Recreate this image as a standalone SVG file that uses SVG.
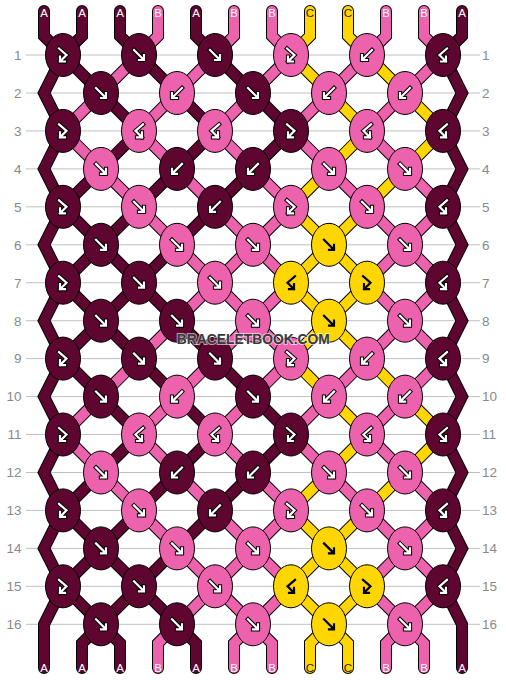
<svg xmlns="http://www.w3.org/2000/svg" xmlns:xlink="http://www.w3.org/1999/xlink" width="506" height="680" viewBox="0 0 506 680">
<style>
.rl{stroke:#c0c0c0;stroke-width:1}
.lbl{font-family:"Liberation Sans",Arial,sans-serif;font-size:13.5px;fill:#8a8a8a}
.le{text-anchor:end}
.sl{font-family:"Liberation Sans",Arial,sans-serif;font-size:11.5px;text-anchor:middle;fill:#fff}
.sl.c{fill:#222}
.ol{fill:none;stroke:#000;stroke-width:12;stroke-linecap:round;stroke-linejoin:miter}
.s{fill:none;stroke-width:10;stroke-linecap:round;stroke-linejoin:miter}
.s.a{stroke:#5e0630}.s.b{stroke:#ec62ac}.s.c{stroke:#ffd600}
.ka{fill:#5e0630}.kb{fill:#ec62ac}.kc{fill:#ffd600}
.ao{fill:none;stroke:#000;stroke-width:4.2;stroke-linecap:square;stroke-linejoin:miter}
.ai{fill:none;stroke:#fff;stroke-width:2.2;stroke-linecap:square;stroke-linejoin:miter}
.ak{fill:none;stroke:#000;stroke-width:2.2;stroke-linecap:square;stroke-linejoin:miter}
.wm{font-family:"Liberation Sans",Arial,sans-serif;font-weight:bold;font-size:15px;text-anchor:middle;fill:#3a3a3a;stroke:#fff;stroke-opacity:.6;stroke-width:2;paint-order:stroke}
</style>
<defs>
<ellipse id="kn" rx="17.5" ry="21.5" stroke="#000" stroke-width="1"/>
<path id="pF" d="M-5,-5L4.5,4.5M5,0V5H0"/>
<path id="pB" d="M5,-5L-4.5,4.5M-5,0V5H0"/>
<path id="pFB" d="M-4,-6.5L3.5,0L-3,6.5M-3,1.5V6.5H2"/>
<path id="pBF" d="M4,-6.5L-3.5,0L3,6.5M3,1.5V6.5H-2"/>
<g id="F"><use href="#pF" class="ao"/><use href="#pF" class="ai"/></g>
<g id="B"><use href="#pB" class="ao"/><use href="#pB" class="ai"/></g>
<g id="FB"><use href="#pFB" class="ao"/><use href="#pFB" class="ai"/></g>
<g id="BF"><use href="#pBF" class="ao"/><use href="#pBF" class="ai"/></g>
<g id="Fk"><use href="#pF" class="ak"/></g>
<g id="FBk"><use href="#pFB" class="ak"/></g>
<g id="BFk"><use href="#pBF" class="ak"/></g>
</defs>
<rect width="506" height="680" fill="#fff"/>
<g id="rowlines">
<path class="rl" d="M26,55H480M26,93H480M26,130.9H480M26,168.9H480M26,206.8H480M26,244.8H480M26,282.7H480M26,320.7H480M26,358.6H480M26,396.6H480M26,434.5H480M26,472.5H480M26,510.4H480M26,548.4H480M26,586.3H480M26,624.3H480"/>
</g>
<g id="rowlabels">
<text class="lbl le" x="21.5" y="59.8">1</text><text class="lbl" x="482" y="59.8">1</text>
<text class="lbl le" x="21.5" y="97.8">2</text><text class="lbl" x="482" y="97.8">2</text>
<text class="lbl le" x="21.5" y="135.7">3</text><text class="lbl" x="482" y="135.7">3</text>
<text class="lbl le" x="21.5" y="173.7">4</text><text class="lbl" x="482" y="173.7">4</text>
<text class="lbl le" x="21.5" y="211.6">5</text><text class="lbl" x="482" y="211.6">5</text>
<text class="lbl le" x="21.5" y="249.6">6</text><text class="lbl" x="482" y="249.6">6</text>
<text class="lbl le" x="21.5" y="287.5">7</text><text class="lbl" x="482" y="287.5">7</text>
<text class="lbl le" x="21.5" y="325.5">8</text><text class="lbl" x="482" y="325.5">8</text>
<text class="lbl le" x="21.5" y="363.4">9</text><text class="lbl" x="482" y="363.4">9</text>
<text class="lbl le" x="21.5" y="401.4">10</text><text class="lbl" x="482" y="401.4">10</text>
<text class="lbl le" x="21.5" y="439.3">11</text><text class="lbl" x="482" y="439.3">11</text>
<text class="lbl le" x="21.5" y="477.3">12</text><text class="lbl" x="482" y="477.3">12</text>
<text class="lbl le" x="21.5" y="515.2">13</text><text class="lbl" x="482" y="515.2">13</text>
<text class="lbl le" x="21.5" y="553.2">14</text><text class="lbl" x="482" y="553.2">14</text>
<text class="lbl le" x="21.5" y="591.1">15</text><text class="lbl" x="482" y="591.1">15</text>
<text class="lbl le" x="21.5" y="629.1">16</text><text class="lbl" x="482" y="629.1">16</text>
</g>
<g id="connectors">
<path class="ol" d="M44,11V36L63,55M82,11V36L63,55M120,11V36L139,55M158,11V36L139,55M196,11V36L215,55M234,11V36L215,55M272,11V36L291,55M310,11V36L291,55M348,11V36L367,55M386,11V36L367,55M424,11V36L443,55M462,11V36L443,55
M63,55L44,93L63,130.9M63,130.9L44,168.9L63,206.8M63,206.8L44,244.8L63,282.7M63,282.7L44,320.7L63,358.6M63,358.6L44,396.6L63,434.5M63,434.5L44,472.5L63,510.4M63,510.4L44,548.4L63,586.3M63,586.3L44,624.3V668
M443,55L462,93L443,130.9M443,130.9L462,168.9L443,206.8M443,206.8L462,244.8L443,282.7M443,282.7L462,320.7L443,358.6M443,358.6L462,396.6L443,434.5M443,434.5L462,472.5L443,510.4M443,510.4L462,548.4L443,586.3M443,586.3L462,624.3V668
M63,55L101,93M139,55L101,93M139,55L177,93M215,55L177,93M215,55L253,93M291,55L253,93M291,55L329,93M367,55L329,93M367,55L405,93M443,55L405,93
M101,93L63,130.9M101,93L139,130.9M177,93L139,130.9M177,93L215,130.9M253,93L215,130.9M253,93L291,130.9M329,93L291,130.9M329,93L367,130.9M405,93L367,130.9M405,93L443,130.9
M63,130.9L101,168.9M139,130.9L101,168.9M139,130.9L177,168.9M215,130.9L177,168.9M215,130.9L253,168.9M291,130.9L253,168.9M291,130.9L329,168.9M367,130.9L329,168.9M367,130.9L405,168.9M443,130.9L405,168.9
M101,168.9L63,206.8M101,168.9L139,206.8M177,168.9L139,206.8M177,168.9L215,206.8M253,168.9L215,206.8M253,168.9L291,206.8M329,168.9L291,206.8M329,168.9L367,206.8M405,168.9L367,206.8M405,168.9L443,206.8
M63,206.8L101,244.8M139,206.8L101,244.8M139,206.8L177,244.8M215,206.8L177,244.8M215,206.8L253,244.8M291,206.8L253,244.8M291,206.8L329,244.8M367,206.8L329,244.8M367,206.8L405,244.8M443,206.8L405,244.8
M101,244.8L63,282.7M101,244.8L139,282.7M177,244.8L139,282.7M177,244.8L215,282.7M253,244.8L215,282.7M253,244.8L291,282.7M329,244.8L291,282.7M329,244.8L367,282.7M405,244.8L367,282.7M405,244.8L443,282.7
M63,282.7L101,320.7M139,282.7L101,320.7M139,282.7L177,320.7M215,282.7L177,320.7M215,282.7L253,320.7M291,282.7L253,320.7M291,282.7L329,320.7M367,282.7L329,320.7M367,282.7L405,320.7M443,282.7L405,320.7
M101,320.7L63,358.6M101,320.7L139,358.6M177,320.7L139,358.6M177,320.7L215,358.6M253,320.7L215,358.6M253,320.7L291,358.6M329,320.7L291,358.6M329,320.7L367,358.6M405,320.7L367,358.6M405,320.7L443,358.6
M63,358.6L101,396.6M139,358.6L101,396.6M139,358.6L177,396.6M215,358.6L177,396.6M215,358.6L253,396.6M291,358.6L253,396.6M291,358.6L329,396.6M367,358.6L329,396.6M367,358.6L405,396.6M443,358.6L405,396.6
M101,396.6L63,434.5M101,396.6L139,434.5M177,396.6L139,434.5M177,396.6L215,434.5M253,396.6L215,434.5M253,396.6L291,434.5M329,396.6L291,434.5M329,396.6L367,434.5M405,396.6L367,434.5M405,396.6L443,434.5
M63,434.5L101,472.5M139,434.5L101,472.5M139,434.5L177,472.5M215,434.5L177,472.5M215,434.5L253,472.5M291,434.5L253,472.5M291,434.5L329,472.5M367,434.5L329,472.5M367,434.5L405,472.5M443,434.5L405,472.5
M101,472.5L63,510.4M101,472.5L139,510.4M177,472.5L139,510.4M177,472.5L215,510.4M253,472.5L215,510.4M253,472.5L291,510.4M329,472.5L291,510.4M329,472.5L367,510.4M405,472.5L367,510.4M405,472.5L443,510.4
M63,510.4L101,548.4M139,510.4L101,548.4M139,510.4L177,548.4M215,510.4L177,548.4M215,510.4L253,548.4M291,510.4L253,548.4M291,510.4L329,548.4M367,510.4L329,548.4M367,510.4L405,548.4M443,510.4L405,548.4
M101,548.4L63,586.3M101,548.4L139,586.3M177,548.4L139,586.3M177,548.4L215,586.3M253,548.4L215,586.3M253,548.4L291,586.3M329,548.4L291,586.3M329,548.4L367,586.3M405,548.4L367,586.3M405,548.4L443,586.3
M63,586.3L101,624.3M139,586.3L101,624.3M139,586.3L177,624.3M215,586.3L177,624.3M215,586.3L253,624.3M291,586.3L253,624.3M291,586.3L329,624.3M367,586.3L329,624.3M367,586.3L405,624.3M443,586.3L405,624.3
M101,624.3L82,643.3V668M101,624.3L120,643.3V668M177,624.3L158,643.3V668M177,624.3L196,643.3V668M253,624.3L234,643.3V668M253,624.3L272,643.3V668M329,624.3L310,643.3V668M329,624.3L348,643.3V668M405,624.3L386,643.3V668M405,624.3L424,643.3V668"/>
<path class="s a" d="M44,11V36L63,55"/><path class="s a" d="M82,11V36L63,55"/><path class="s a" d="M120,11V36L139,55"/><path class="s b" d="M158,11V36L139,55"/><path class="s a" d="M196,11V36L215,55"/><path class="s b" d="M234,11V36L215,55"/><path class="s b" d="M272,11V36L291,55"/><path class="s c" d="M310,11V36L291,55"/><path class="s c" d="M348,11V36L367,55"/><path class="s b" d="M386,11V36L367,55"/><path class="s b" d="M424,11V36L443,55"/><path class="s a" d="M462,11V36L443,55"/>
<path class="s a" d="M63,55L44,93L63,130.9"/><path class="s a" d="M63,130.9L44,168.9L63,206.8"/><path class="s a" d="M63,206.8L44,244.8L63,282.7"/><path class="s a" d="M63,282.7L44,320.7L63,358.6"/><path class="s a" d="M63,358.6L44,396.6L63,434.5"/><path class="s a" d="M63,434.5L44,472.5L63,510.4"/><path class="s a" d="M63,510.4L44,548.4L63,586.3"/><path class="s a" d="M63,586.3L44,624.3V668"/>
<path class="s a" d="M443,55L462,93L443,130.9"/><path class="s a" d="M443,130.9L462,168.9L443,206.8"/><path class="s a" d="M443,206.8L462,244.8L443,282.7"/><path class="s a" d="M443,282.7L462,320.7L443,358.6"/><path class="s a" d="M443,358.6L462,396.6L443,434.5"/><path class="s a" d="M443,434.5L462,472.5L443,510.4"/><path class="s a" d="M443,510.4L462,548.4L443,586.3"/><path class="s a" d="M443,586.3L462,624.3V668"/>
<path class="s a" d="M63,55L101,93"/><path class="s b" d="M139,55L101,93"/><path class="s a" d="M139,55L177,93"/><path class="s b" d="M215,55L177,93"/><path class="s a" d="M215,55L253,93"/><path class="s b" d="M291,55L253,93"/><path class="s c" d="M291,55L329,93"/><path class="s b" d="M367,55L329,93"/><path class="s c" d="M367,55L405,93"/><path class="s b" d="M443,55L405,93"/>
<path class="s b" d="M101,93L63,130.9"/><path class="s a" d="M101,93L139,130.9"/><path class="s b" d="M177,93L139,130.9"/><path class="s a" d="M177,93L215,130.9"/><path class="s b" d="M253,93L215,130.9"/><path class="s a" d="M253,93L291,130.9"/><path class="s b" d="M329,93L291,130.9"/><path class="s c" d="M329,93L367,130.9"/><path class="s b" d="M405,93L367,130.9"/><path class="s c" d="M405,93L443,130.9"/>
<path class="s b" d="M63,130.9L101,168.9"/><path class="s a" d="M139,130.9L101,168.9"/><path class="s b" d="M139,130.9L177,168.9"/><path class="s a" d="M215,130.9L177,168.9"/><path class="s b" d="M215,130.9L253,168.9"/><path class="s a" d="M291,130.9L253,168.9"/><path class="s b" d="M291,130.9L329,168.9"/><path class="s c" d="M367,130.9L329,168.9"/><path class="s b" d="M367,130.9L405,168.9"/><path class="s c" d="M443,130.9L405,168.9"/>
<path class="s a" d="M101,168.9L63,206.8"/><path class="s b" d="M101,168.9L139,206.8"/><path class="s a" d="M177,168.9L139,206.8"/><path class="s b" d="M177,168.9L215,206.8"/><path class="s a" d="M253,168.9L215,206.8"/><path class="s b" d="M253,168.9L291,206.8"/><path class="s c" d="M329,168.9L291,206.8"/><path class="s b" d="M329,168.9L367,206.8"/><path class="s c" d="M405,168.9L367,206.8"/><path class="s b" d="M405,168.9L443,206.8"/>
<path class="s a" d="M63,206.8L101,244.8"/><path class="s a" d="M139,206.8L101,244.8"/><path class="s b" d="M139,206.8L177,244.8"/><path class="s a" d="M215,206.8L177,244.8"/><path class="s b" d="M215,206.8L253,244.8"/><path class="s b" d="M291,206.8L253,244.8"/><path class="s c" d="M291,206.8L329,244.8"/><path class="s c" d="M367,206.8L329,244.8"/><path class="s b" d="M367,206.8L405,244.8"/><path class="s b" d="M443,206.8L405,244.8"/>
<path class="s a" d="M101,244.8L63,282.7"/><path class="s a" d="M101,244.8L139,282.7"/><path class="s a" d="M177,244.8L139,282.7"/><path class="s b" d="M177,244.8L215,282.7"/><path class="s b" d="M253,244.8L215,282.7"/><path class="s b" d="M253,244.8L291,282.7"/><path class="s c" d="M329,244.8L291,282.7"/><path class="s c" d="M329,244.8L367,282.7"/><path class="s b" d="M405,244.8L367,282.7"/><path class="s b" d="M405,244.8L443,282.7"/>
<path class="s a" d="M63,282.7L101,320.7"/><path class="s a" d="M139,282.7L101,320.7"/><path class="s a" d="M139,282.7L177,320.7"/><path class="s b" d="M215,282.7L177,320.7"/><path class="s b" d="M215,282.7L253,320.7"/><path class="s b" d="M291,282.7L253,320.7"/><path class="s c" d="M291,282.7L329,320.7"/><path class="s c" d="M367,282.7L329,320.7"/><path class="s b" d="M367,282.7L405,320.7"/><path class="s b" d="M443,282.7L405,320.7"/>
<path class="s a" d="M101,320.7L63,358.6"/><path class="s a" d="M101,320.7L139,358.6"/><path class="s b" d="M177,320.7L139,358.6"/><path class="s a" d="M177,320.7L215,358.6"/><path class="s b" d="M253,320.7L215,358.6"/><path class="s b" d="M253,320.7L291,358.6"/><path class="s c" d="M329,320.7L291,358.6"/><path class="s c" d="M329,320.7L367,358.6"/><path class="s b" d="M405,320.7L367,358.6"/><path class="s b" d="M405,320.7L443,358.6"/>
<path class="s a" d="M63,358.6L101,396.6"/><path class="s b" d="M139,358.6L101,396.6"/><path class="s a" d="M139,358.6L177,396.6"/><path class="s b" d="M215,358.6L177,396.6"/><path class="s a" d="M215,358.6L253,396.6"/><path class="s b" d="M291,358.6L253,396.6"/><path class="s c" d="M291,358.6L329,396.6"/><path class="s b" d="M367,358.6L329,396.6"/><path class="s c" d="M367,358.6L405,396.6"/><path class="s b" d="M443,358.6L405,396.6"/>
<path class="s b" d="M101,396.6L63,434.5"/><path class="s a" d="M101,396.6L139,434.5"/><path class="s b" d="M177,396.6L139,434.5"/><path class="s a" d="M177,396.6L215,434.5"/><path class="s b" d="M253,396.6L215,434.5"/><path class="s a" d="M253,396.6L291,434.5"/><path class="s b" d="M329,396.6L291,434.5"/><path class="s c" d="M329,396.6L367,434.5"/><path class="s b" d="M405,396.6L367,434.5"/><path class="s c" d="M405,396.6L443,434.5"/>
<path class="s b" d="M63,434.5L101,472.5"/><path class="s a" d="M139,434.5L101,472.5"/><path class="s b" d="M139,434.5L177,472.5"/><path class="s a" d="M215,434.5L177,472.5"/><path class="s b" d="M215,434.5L253,472.5"/><path class="s a" d="M291,434.5L253,472.5"/><path class="s b" d="M291,434.5L329,472.5"/><path class="s c" d="M367,434.5L329,472.5"/><path class="s b" d="M367,434.5L405,472.5"/><path class="s c" d="M443,434.5L405,472.5"/>
<path class="s a" d="M101,472.5L63,510.4"/><path class="s b" d="M101,472.5L139,510.4"/><path class="s a" d="M177,472.5L139,510.4"/><path class="s b" d="M177,472.5L215,510.4"/><path class="s a" d="M253,472.5L215,510.4"/><path class="s b" d="M253,472.5L291,510.4"/><path class="s c" d="M329,472.5L291,510.4"/><path class="s b" d="M329,472.5L367,510.4"/><path class="s c" d="M405,472.5L367,510.4"/><path class="s b" d="M405,472.5L443,510.4"/>
<path class="s a" d="M63,510.4L101,548.4"/><path class="s a" d="M139,510.4L101,548.4"/><path class="s b" d="M139,510.4L177,548.4"/><path class="s a" d="M215,510.4L177,548.4"/><path class="s b" d="M215,510.4L253,548.4"/><path class="s b" d="M291,510.4L253,548.4"/><path class="s c" d="M291,510.4L329,548.4"/><path class="s c" d="M367,510.4L329,548.4"/><path class="s b" d="M367,510.4L405,548.4"/><path class="s b" d="M443,510.4L405,548.4"/>
<path class="s a" d="M101,548.4L63,586.3"/><path class="s a" d="M101,548.4L139,586.3"/><path class="s a" d="M177,548.4L139,586.3"/><path class="s b" d="M177,548.4L215,586.3"/><path class="s b" d="M253,548.4L215,586.3"/><path class="s b" d="M253,548.4L291,586.3"/><path class="s c" d="M329,548.4L291,586.3"/><path class="s c" d="M329,548.4L367,586.3"/><path class="s b" d="M405,548.4L367,586.3"/><path class="s b" d="M405,548.4L443,586.3"/>
<path class="s a" d="M63,586.3L101,624.3"/><path class="s a" d="M139,586.3L101,624.3"/><path class="s a" d="M139,586.3L177,624.3"/><path class="s b" d="M215,586.3L177,624.3"/><path class="s b" d="M215,586.3L253,624.3"/><path class="s b" d="M291,586.3L253,624.3"/><path class="s c" d="M291,586.3L329,624.3"/><path class="s c" d="M367,586.3L329,624.3"/><path class="s b" d="M367,586.3L405,624.3"/><path class="s b" d="M443,586.3L405,624.3"/>
<path class="s a" d="M101,624.3L82,643.3V668"/><path class="s a" d="M101,624.3L120,643.3V668"/><path class="s b" d="M177,624.3L158,643.3V668"/><path class="s a" d="M177,624.3L196,643.3V668"/><path class="s b" d="M253,624.3L234,643.3V668"/><path class="s b" d="M253,624.3L272,643.3V668"/><path class="s c" d="M329,624.3L310,643.3V668"/><path class="s c" d="M329,624.3L348,643.3V668"/><path class="s b" d="M405,624.3L386,643.3V668"/><path class="s b" d="M405,624.3L424,643.3V668"/>
</g>
<g id="knots">
<g id="k1-1" transform="translate(63,55)"><use href="#kn" class="ka"/><use href="#FB"/></g>
<g id="k1-2" transform="translate(139,55)"><use href="#kn" class="ka"/><use href="#F"/></g>
<g id="k1-3" transform="translate(215,55)"><use href="#kn" class="ka"/><use href="#F"/></g>
<g id="k1-4" transform="translate(291,55)"><use href="#kn" class="kb"/><use href="#FB"/></g>
<g id="k1-5" transform="translate(367,55)"><use href="#kn" class="kb"/><use href="#B"/></g>
<g id="k1-6" transform="translate(443,55)"><use href="#kn" class="ka"/><use href="#BF"/></g>
<g id="k2-1" transform="translate(101,93)"><use href="#kn" class="ka"/><use href="#F"/></g>
<g id="k2-2" transform="translate(177,93)"><use href="#kn" class="kb"/><use href="#B"/></g>
<g id="k2-3" transform="translate(253,93)"><use href="#kn" class="ka"/><use href="#F"/></g>
<g id="k2-4" transform="translate(329,93)"><use href="#kn" class="kb"/><use href="#B"/></g>
<g id="k2-5" transform="translate(405,93)"><use href="#kn" class="kb"/><use href="#B"/></g>
<g id="k3-1" transform="translate(63,130.9)"><use href="#kn" class="ka"/><use href="#FB"/></g>
<g id="k3-2" transform="translate(139,130.9)"><use href="#kn" class="kb"/><use href="#BF"/></g>
<g id="k3-3" transform="translate(215,130.9)"><use href="#kn" class="kb"/><use href="#BF"/></g>
<g id="k3-4" transform="translate(291,130.9)"><use href="#kn" class="ka"/><use href="#FB"/></g>
<g id="k3-5" transform="translate(367,130.9)"><use href="#kn" class="kb"/><use href="#BF"/></g>
<g id="k3-6" transform="translate(443,130.9)"><use href="#kn" class="ka"/><use href="#BF"/></g>
<g id="k4-1" transform="translate(101,168.9)"><use href="#kn" class="kb"/><use href="#F"/></g>
<g id="k4-2" transform="translate(177,168.9)"><use href="#kn" class="ka"/><use href="#B"/></g>
<g id="k4-3" transform="translate(253,168.9)"><use href="#kn" class="ka"/><use href="#B"/></g>
<g id="k4-4" transform="translate(329,168.9)"><use href="#kn" class="kb"/><use href="#F"/></g>
<g id="k4-5" transform="translate(405,168.9)"><use href="#kn" class="kb"/><use href="#F"/></g>
<g id="k5-1" transform="translate(63,206.8)"><use href="#kn" class="ka"/><use href="#FB"/></g>
<g id="k5-2" transform="translate(139,206.8)"><use href="#kn" class="kb"/><use href="#F"/></g>
<g id="k5-3" transform="translate(215,206.8)"><use href="#kn" class="ka"/><use href="#B"/></g>
<g id="k5-4" transform="translate(291,206.8)"><use href="#kn" class="kb"/><use href="#FB"/></g>
<g id="k5-5" transform="translate(367,206.8)"><use href="#kn" class="kb"/><use href="#F"/></g>
<g id="k5-6" transform="translate(443,206.8)"><use href="#kn" class="ka"/><use href="#BF"/></g>
<g id="k6-1" transform="translate(101,244.8)"><use href="#kn" class="ka"/><use href="#F"/></g>
<g id="k6-2" transform="translate(177,244.8)"><use href="#kn" class="kb"/><use href="#F"/></g>
<g id="k6-3" transform="translate(253,244.8)"><use href="#kn" class="kb"/><use href="#F"/></g>
<g id="k6-4" transform="translate(329,244.8)"><use href="#kn" class="kc"/><use href="#Fk"/></g>
<g id="k6-5" transform="translate(405,244.8)"><use href="#kn" class="kb"/><use href="#F"/></g>
<g id="k7-1" transform="translate(63,282.7)"><use href="#kn" class="ka"/><use href="#FB"/></g>
<g id="k7-2" transform="translate(139,282.7)"><use href="#kn" class="ka"/><use href="#F"/></g>
<g id="k7-3" transform="translate(215,282.7)"><use href="#kn" class="kb"/><use href="#F"/></g>
<g id="k7-4" transform="translate(291,282.7)"><use href="#kn" class="kc"/><use href="#BFk"/></g>
<g id="k7-5" transform="translate(367,282.7)"><use href="#kn" class="kc"/><use href="#FBk"/></g>
<g id="k7-6" transform="translate(443,282.7)"><use href="#kn" class="ka"/><use href="#BF"/></g>
<g id="k8-1" transform="translate(101,320.7)"><use href="#kn" class="ka"/><use href="#F"/></g>
<g id="k8-2" transform="translate(177,320.7)"><use href="#kn" class="ka"/><use href="#F"/></g>
<g id="k8-3" transform="translate(253,320.7)"><use href="#kn" class="kb"/><use href="#F"/></g>
<g id="k8-4" transform="translate(329,320.7)"><use href="#kn" class="kc"/><use href="#Fk"/></g>
<g id="k8-5" transform="translate(405,320.7)"><use href="#kn" class="kb"/><use href="#F"/></g>
<g id="k9-1" transform="translate(63,358.6)"><use href="#kn" class="ka"/><use href="#FB"/></g>
<g id="k9-2" transform="translate(139,358.6)"><use href="#kn" class="ka"/><use href="#F"/></g>
<g id="k9-3" transform="translate(215,358.6)"><use href="#kn" class="ka"/><use href="#F"/></g>
<g id="k9-4" transform="translate(291,358.6)"><use href="#kn" class="kb"/><use href="#FB"/></g>
<g id="k9-5" transform="translate(367,358.6)"><use href="#kn" class="kb"/><use href="#B"/></g>
<g id="k9-6" transform="translate(443,358.6)"><use href="#kn" class="ka"/><use href="#BF"/></g>
<g id="k10-1" transform="translate(101,396.6)"><use href="#kn" class="ka"/><use href="#F"/></g>
<g id="k10-2" transform="translate(177,396.6)"><use href="#kn" class="kb"/><use href="#B"/></g>
<g id="k10-3" transform="translate(253,396.6)"><use href="#kn" class="ka"/><use href="#F"/></g>
<g id="k10-4" transform="translate(329,396.6)"><use href="#kn" class="kb"/><use href="#B"/></g>
<g id="k10-5" transform="translate(405,396.6)"><use href="#kn" class="kb"/><use href="#B"/></g>
<g id="k11-1" transform="translate(63,434.5)"><use href="#kn" class="ka"/><use href="#FB"/></g>
<g id="k11-2" transform="translate(139,434.5)"><use href="#kn" class="kb"/><use href="#BF"/></g>
<g id="k11-3" transform="translate(215,434.5)"><use href="#kn" class="kb"/><use href="#BF"/></g>
<g id="k11-4" transform="translate(291,434.5)"><use href="#kn" class="ka"/><use href="#FB"/></g>
<g id="k11-5" transform="translate(367,434.5)"><use href="#kn" class="kb"/><use href="#BF"/></g>
<g id="k11-6" transform="translate(443,434.5)"><use href="#kn" class="ka"/><use href="#BF"/></g>
<g id="k12-1" transform="translate(101,472.5)"><use href="#kn" class="kb"/><use href="#F"/></g>
<g id="k12-2" transform="translate(177,472.5)"><use href="#kn" class="ka"/><use href="#B"/></g>
<g id="k12-3" transform="translate(253,472.5)"><use href="#kn" class="ka"/><use href="#B"/></g>
<g id="k12-4" transform="translate(329,472.5)"><use href="#kn" class="kb"/><use href="#F"/></g>
<g id="k12-5" transform="translate(405,472.5)"><use href="#kn" class="kb"/><use href="#F"/></g>
<g id="k13-1" transform="translate(63,510.4)"><use href="#kn" class="ka"/><use href="#FB"/></g>
<g id="k13-2" transform="translate(139,510.4)"><use href="#kn" class="kb"/><use href="#F"/></g>
<g id="k13-3" transform="translate(215,510.4)"><use href="#kn" class="ka"/><use href="#B"/></g>
<g id="k13-4" transform="translate(291,510.4)"><use href="#kn" class="kb"/><use href="#FB"/></g>
<g id="k13-5" transform="translate(367,510.4)"><use href="#kn" class="kb"/><use href="#F"/></g>
<g id="k13-6" transform="translate(443,510.4)"><use href="#kn" class="ka"/><use href="#BF"/></g>
<g id="k14-1" transform="translate(101,548.4)"><use href="#kn" class="ka"/><use href="#F"/></g>
<g id="k14-2" transform="translate(177,548.4)"><use href="#kn" class="kb"/><use href="#F"/></g>
<g id="k14-3" transform="translate(253,548.4)"><use href="#kn" class="kb"/><use href="#F"/></g>
<g id="k14-4" transform="translate(329,548.4)"><use href="#kn" class="kc"/><use href="#Fk"/></g>
<g id="k14-5" transform="translate(405,548.4)"><use href="#kn" class="kb"/><use href="#F"/></g>
<g id="k15-1" transform="translate(63,586.3)"><use href="#kn" class="ka"/><use href="#FB"/></g>
<g id="k15-2" transform="translate(139,586.3)"><use href="#kn" class="ka"/><use href="#F"/></g>
<g id="k15-3" transform="translate(215,586.3)"><use href="#kn" class="kb"/><use href="#F"/></g>
<g id="k15-4" transform="translate(291,586.3)"><use href="#kn" class="kc"/><use href="#BFk"/></g>
<g id="k15-5" transform="translate(367,586.3)"><use href="#kn" class="kc"/><use href="#FBk"/></g>
<g id="k15-6" transform="translate(443,586.3)"><use href="#kn" class="ka"/><use href="#BF"/></g>
<g id="k16-1" transform="translate(101,624.3)"><use href="#kn" class="ka"/><use href="#F"/></g>
<g id="k16-2" transform="translate(177,624.3)"><use href="#kn" class="ka"/><use href="#F"/></g>
<g id="k16-3" transform="translate(253,624.3)"><use href="#kn" class="kb"/><use href="#F"/></g>
<g id="k16-4" transform="translate(329,624.3)"><use href="#kn" class="kc"/><use href="#Fk"/></g>
<g id="k16-5" transform="translate(405,624.3)"><use href="#kn" class="kb"/><use href="#F"/></g>
</g>
<g id="stringlabels">
<text class="sl" x="44" y="17">A</text><text class="sl" x="82" y="17">A</text><text class="sl" x="120" y="17">A</text><text class="sl" x="158" y="17">B</text><text class="sl" x="196" y="17">A</text><text class="sl" x="234" y="17">B</text><text class="sl" x="272" y="17">B</text><text class="sl c" x="310" y="17">C</text><text class="sl c" x="348" y="17">C</text><text class="sl" x="386" y="17">B</text><text class="sl" x="424" y="17">B</text><text class="sl" x="462" y="17">A</text>
<text class="sl" x="44" y="672">A</text><text class="sl" x="82" y="672">A</text><text class="sl" x="120" y="672">A</text><text class="sl" x="158" y="672">B</text><text class="sl" x="196" y="672">A</text><text class="sl" x="234" y="672">B</text><text class="sl" x="272" y="672">B</text><text class="sl c" x="310" y="672">C</text><text class="sl c" x="348" y="672">C</text><text class="sl" x="386" y="672">B</text><text class="sl" x="424" y="672">B</text><text class="sl" x="462" y="672">A</text>
</g>
<text class="wm" x="253.3" y="344.3" textLength="153" lengthAdjust="spacingAndGlyphs">BRACELETBOOK.COM</text>
</svg>
